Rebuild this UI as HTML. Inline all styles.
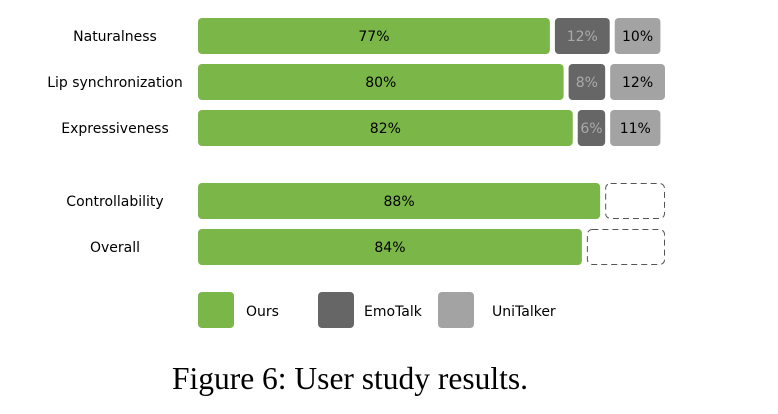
<!DOCTYPE html>
<html><head><meta charset="utf-8"><style>
body{margin:0;background:#fff;width:778px;height:409px;overflow:hidden}
svg text{font-family:"DejaVu Sans","Liberation Sans",sans-serif;font-size:14px}
</style></head><body>
<svg id="chart" width="778" height="409">
<g id="bars"></g>
<g>
<rect x="198" y="292" width="36" height="36" rx="4" fill="#7ab648"/>
<text x="246" y="316">Ours</text>
<rect x="318" y="292" width="36" height="36" rx="4" fill="#666"/>
<text x="364" y="316">EmoTalk</text>
<rect x="438" y="292" width="36" height="36" rx="4" fill="#a3a3a3"/>
<text x="492" y="316">UniTalker</text>
</g>
<text x="350" y="389" text-anchor="middle" style="font-family:'Liberation Serif',serif;font-size:31.5px">Figure 6: User study results.</text>
</svg>
<script>
const categories=["Naturalness","Lip synchronization","Expressiveness","Controllability","Overall"];
const ours=[77,80,82,88,84];
const emotalk=[12,8,6,null,null];
const unitalker=[10,12,11,null,null];
const rowY=[18,64,110,183,229];
const X0=198,S=4.57,G=5,H=36;
const x=v=>v*S;
const g=document.getElementById('bars');
const NS='http://www.w3.org/2000/svg';
function mk(t,a){const e=document.createElementNS(NS,t);for(const k in a)e.setAttribute(k,a[k]);g.appendChild(e);return e;}
categories.forEach((c,i)=>{
 const y=rowY[i];
 const lab=mk('text',{x:115,y:y+H/2+5,'text-anchor':'middle'});lab.textContent=c;
 
 
 let cx=X0;
 const w=x(ours[i]);
 const r=mk('rect',{x:cx,y:y,width:w,height:H,rx:4,fill:'#7ab648'});
 
 
 const t=mk('text',{x:cx+w/2,y:y+H/2+5,'text-anchor':'middle'});t.textContent=ours[i]+'%';
 
 
 cx+=w+G;
 if(emotalk[i]!=null){
  const w2=x(emotalk[i]);
  const r2=mk('rect',{x:cx,y:y,width:w2,height:H,rx:4,fill:'#666'});
  
  
  const t2=mk('text',{x:cx+w2/2,y:y+H/2+5,'text-anchor':'middle',fill:'#aaa'});t2.textContent=emotalk[i]+'%';
  
  
  cx+=w2+G;
  const w3=x(unitalker[i]);
  const r3=mk('rect',{x:cx,y:y,width:w3,height:H,rx:4,fill:'#a3a3a3'});
  
  
  const t3=mk('text',{x:cx+w3/2,y:y+H/2+5,'text-anchor':'middle'});t3.textContent=unitalker[i]+'%';
  
  
 } else {
  const w4=X0+x(100)+G*2-cx;
  const d=mk('rect',{x:cx+0.5,y:y+0.5,width:w4-1,height:H-1,rx:5,fill:'none',stroke:'#555','stroke-dasharray':'6,4'});
  
  
 }
});
</script>
</body></html>
